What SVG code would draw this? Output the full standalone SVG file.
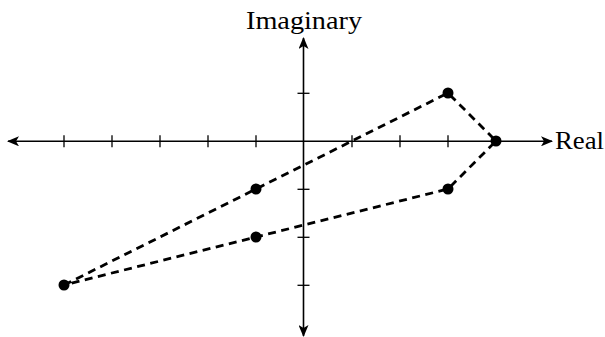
<svg xmlns="http://www.w3.org/2000/svg" width="605" height="337" viewBox="0 0 605 337">
<style>
.axis{stroke:#000;stroke-width:1.6;fill:none}
.tick{stroke:#000;stroke-width:1.3}
.dash{stroke:#000;stroke-width:2.8;fill:none;stroke-dasharray:8 5.5}
.pt{fill:#000}
.lbl{font-family:"Liberation Serif","Times New Roman",serif;font-size:26px;fill:#000}
</style>
<defs>
<marker id="ah" viewBox="0 0 12 10" refX="11" refY="5" markerWidth="12" markerHeight="10" markerUnits="userSpaceOnUse" orient="auto-start-reverse">
<path d="M0,0 L12,5 L0,10 L3,5 Z" fill="#000"/>
</marker>
</defs>
<g id="axes">
<line class="axis" x1="8" y1="141.3" x2="552" y2="141.3" marker-start="url(#ah)" marker-end="url(#ah)"/>
<line class="axis" x1="303.5" y1="38" x2="303.5" y2="336" marker-start="url(#ah)" marker-end="url(#ah)"/>
<g class="tick">
<line x1="64" y1="135.3" x2="64" y2="147.3"/>
<line x1="112" y1="135.3" x2="112" y2="147.3"/>
<line x1="160" y1="135.3" x2="160" y2="147.3"/>
<line x1="208" y1="135.3" x2="208" y2="147.3"/>
<line x1="256" y1="135.3" x2="256" y2="147.3"/>
<line x1="352" y1="135.3" x2="352" y2="147.3"/>
<line x1="400" y1="135.3" x2="400" y2="147.3"/>
<line x1="448" y1="135.3" x2="448" y2="147.3"/>
<line x1="297.5" y1="93.3" x2="309.5" y2="93.3"/>
<line x1="297.5" y1="189.3" x2="309.5" y2="189.3"/>
<line x1="297.5" y1="237.3" x2="309.5" y2="237.3"/>
<line x1="297.5" y1="285.3" x2="309.5" y2="285.3"/>
</g>
<text id="lbl-imag" class="lbl" x="246" y="28.5" textLength="116" lengthAdjust="spacingAndGlyphs">Imaginary</text>
<text id="lbl-real" class="lbl" x="555" y="148.5" textLength="49" lengthAdjust="spacingAndGlyphs">Real</text>
</g>
<g id="connectors">
<polyline class="dash" points="64,285 256,189 448,93 496,141 448,189 256,237 64,285"/>
</g>
<g id="p1"><circle class="pt" cx="64" cy="285" r="5.5"/></g>
<g id="p2"><circle class="pt" cx="256" cy="189" r="5.5"/></g>
<g id="p3"><circle class="pt" cx="448" cy="93" r="5.5"/></g>
<g id="p4"><circle class="pt" cx="496" cy="141" r="5.5"/></g>
<g id="p5"><circle class="pt" cx="448" cy="189" r="5.5"/></g>
<g id="p6"><circle class="pt" cx="256" cy="237" r="5.5"/></g>
</svg>
